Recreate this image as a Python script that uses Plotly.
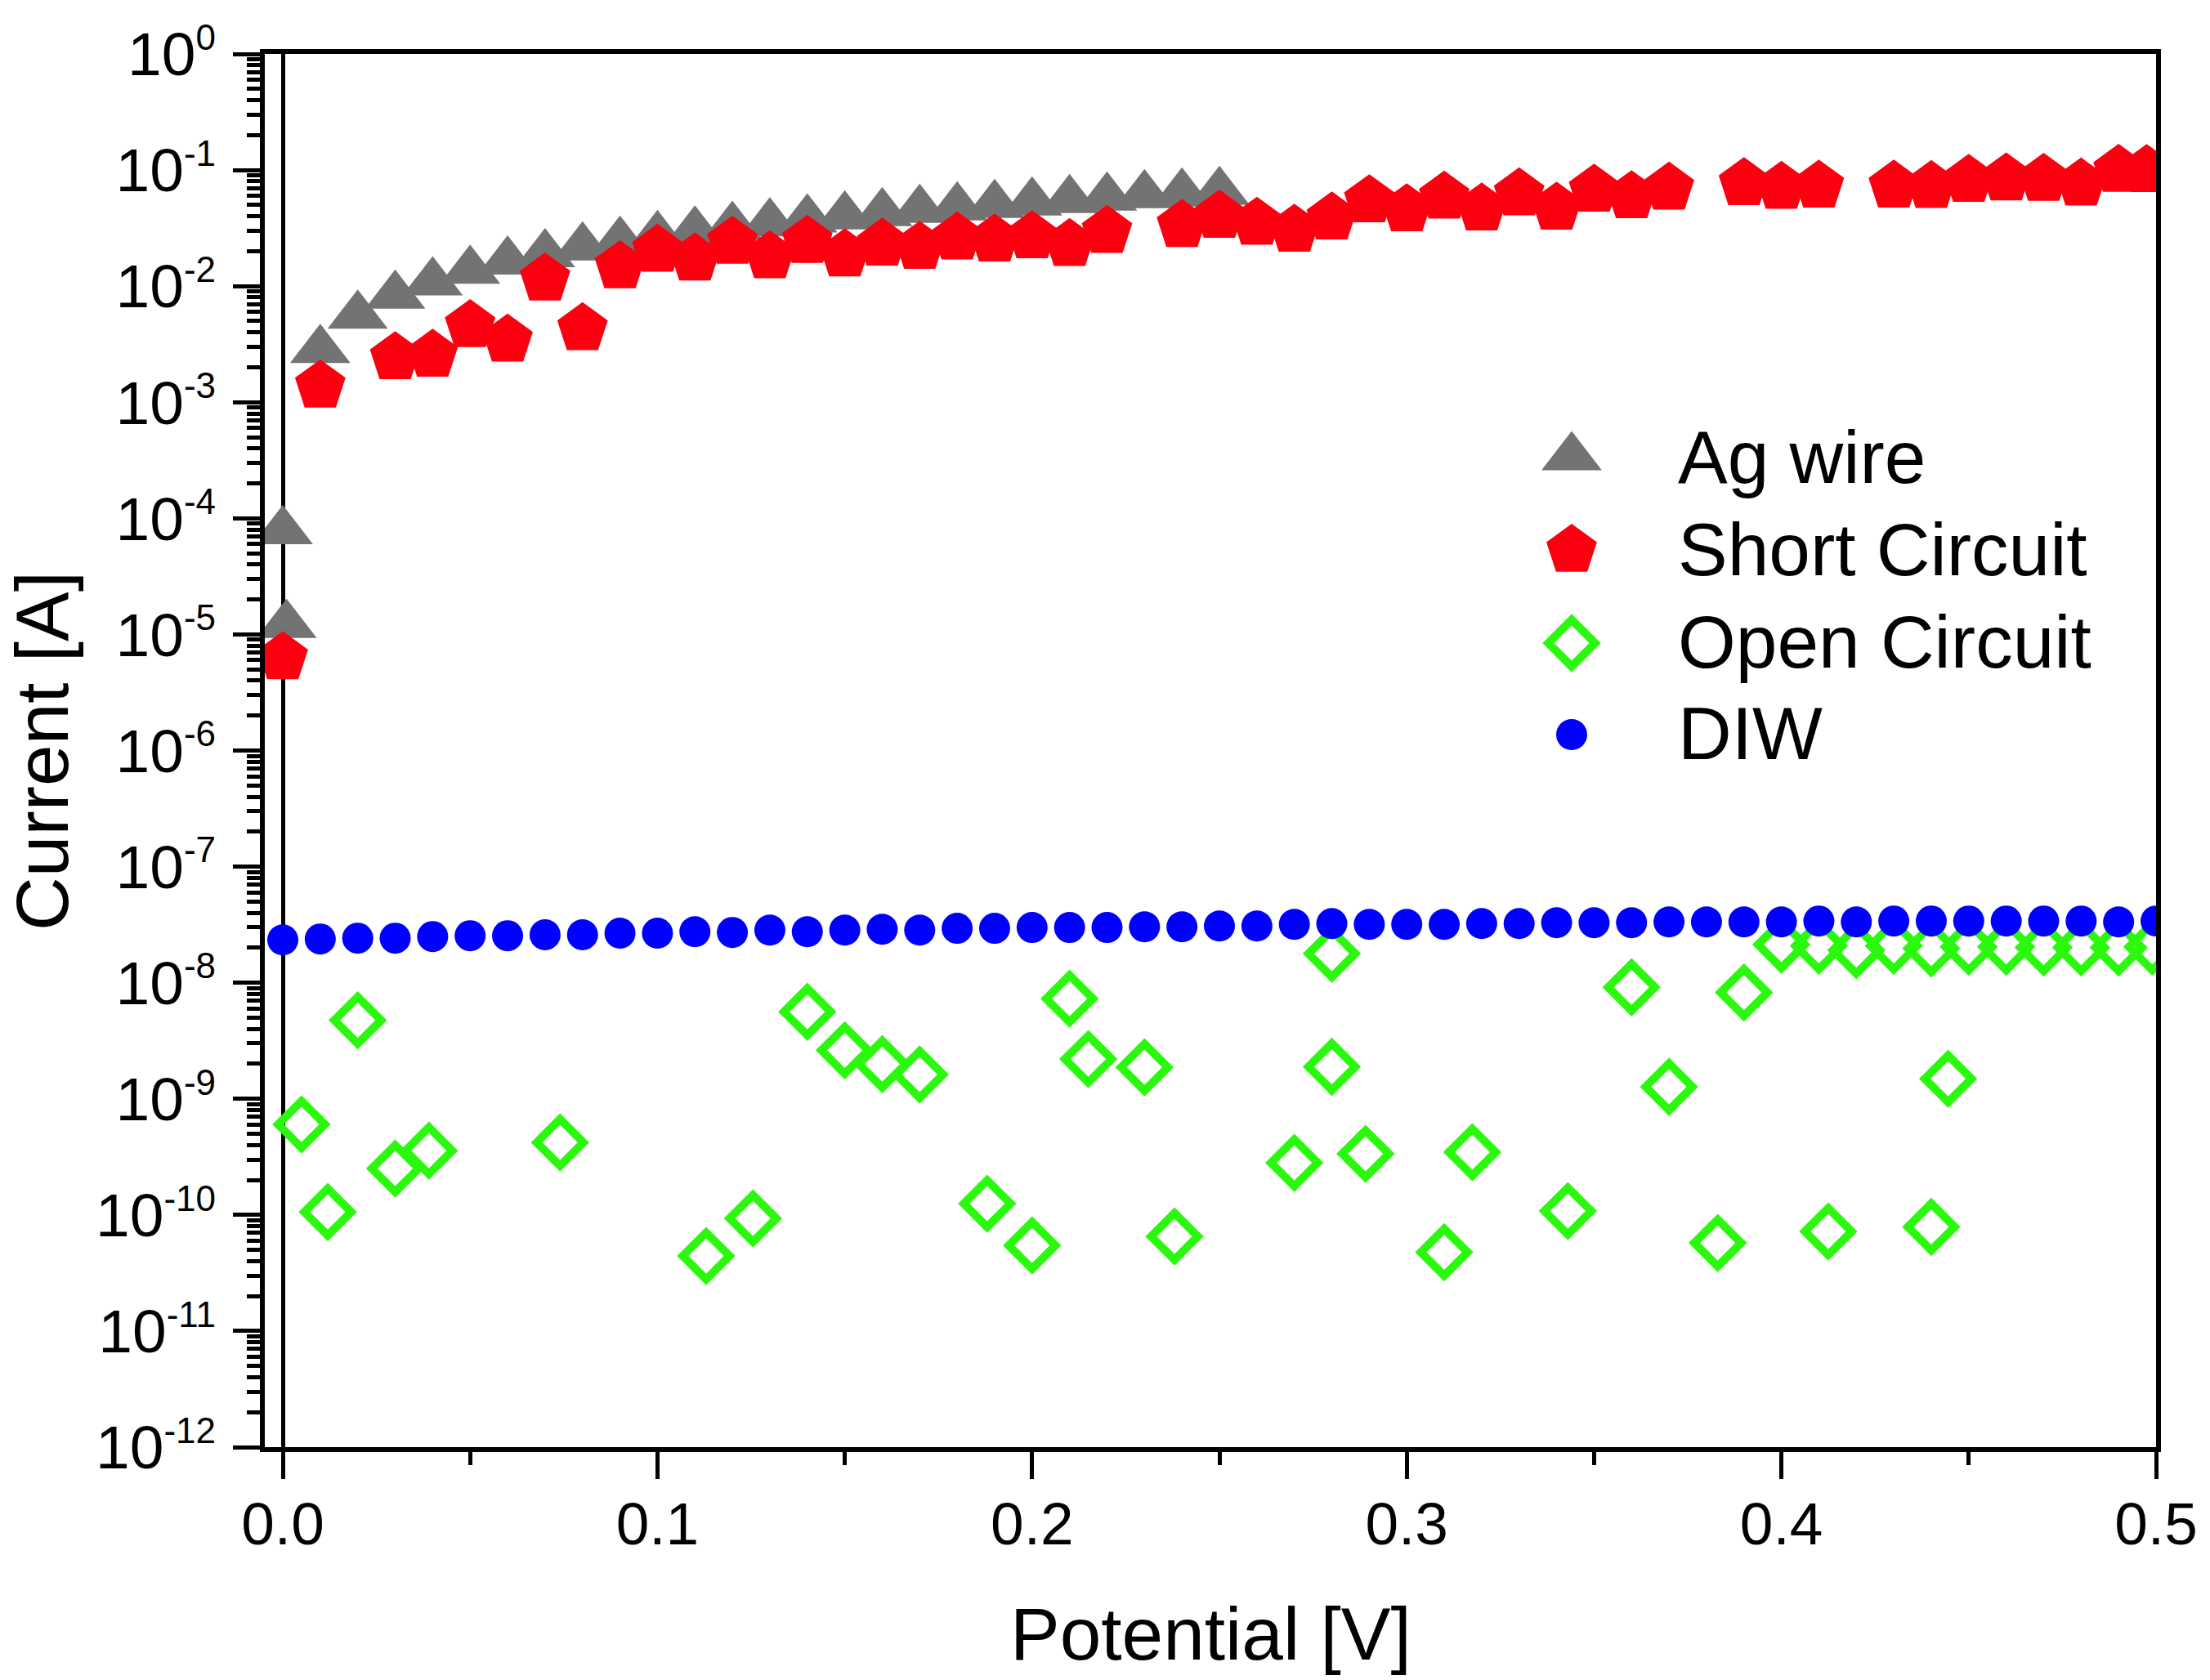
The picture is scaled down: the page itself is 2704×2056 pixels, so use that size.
import plotly.graph_objects as go

# ---------------- data ----------------
series_names = ["Ag wire", "Short Circuit", "Open Circuit", "DIW"]

ag_x = [0.0, 0.001, 0.01, 0.02, 0.03, 0.04, 0.05, 0.06, 0.07, 0.08, 0.09, 0.10,
        0.11, 0.12, 0.13, 0.14, 0.15, 0.16, 0.17, 0.18, 0.19, 0.20, 0.21, 0.22,
        0.23, 0.24, 0.25]
ag_y = [7.77e-5, 1.21e-5, 2.82e-3, 5.58e-3, 8.28e-3, 1.08e-2, 1.36e-2, 1.63e-2,
        1.89e-2, 2.16e-2, 2.42e-2, 2.71e-2, 2.96e-2, 3.25e-2, 3.48e-2, 3.76e-2,
        3.99e-2, 4.26e-2, 4.54e-2, 4.77e-2, 5.01e-2, 5.26e-2, 5.52e-2, 5.79e-2,
        6.08e-2, 6.28e-2, 6.49e-2]

sc_x = [0.0, 0.01, 0.03, 0.04, 0.05, 0.06, 0.07, 0.08, 0.09, 0.10, 0.11, 0.12,
        0.13, 0.14, 0.15, 0.16, 0.17, 0.18, 0.19, 0.20, 0.21, 0.22, 0.24, 0.25,
        0.26, 0.27, 0.28, 0.29, 0.30, 0.31, 0.32, 0.33, 0.34, 0.35, 0.36, 0.37,
        0.39, 0.40, 0.41, 0.43, 0.44, 0.45, 0.46, 0.47, 0.48, 0.49, 0.4975]
sc_y = [6.3e-6, 1.38e-3, 2.42e-3, 2.54e-3, 4.57e-3, 3.43e-3, 1.15e-2, 4.3e-3,
        1.47e-2, 2.04e-2, 1.71e-2, 2.39e-2, 1.79e-2, 2.43e-2, 1.86e-2, 2.30e-2,
        2.16e-2, 2.60e-2, 2.50e-2, 2.66e-2, 2.28e-2, 2.96e-2, 3.33e-2, 4.0e-2,
        3.48e-2, 3.03e-2, 3.86e-2, 5.44e-2, 4.54e-2, 5.84e-2, 4.62e-2, 6.23e-2,
        4.69e-2, 6.7e-2, 5.89e-2, 6.98e-2, 7.63e-2, 7.1e-2, 7.28e-2, 7.28e-2,
        7.22e-2, 8.14e-2, 8.38e-2, 8.31e-2, 7.58e-2, 9.93e-2, 9.9e-2]

oc_x = [0.005, 0.012, 0.020, 0.030, 0.039, 0.074, 0.113, 0.1255, 0.140, 0.150,
        0.160, 0.170, 0.188, 0.200, 0.210, 0.215, 0.230, 0.238, 0.270, 0.280,
        0.280, 0.289, 0.310, 0.3175, 0.343, 0.360, 0.370, 0.383, 0.390, 0.400,
        0.410, 0.4125, 0.420, 0.430, 0.440, 0.440, 0.4445, 0.450, 0.460, 0.470,
        0.480, 0.490, 0.499]
oc_y = [6.02e-10, 1.06e-10, 4.75e-9, 2.51e-10, 3.58e-10, 4.21e-10, 4.43e-11,
        9.33e-11, 5.62e-9, 2.62e-9, 1.99e-9, 1.62e-9, 1.25e-10, 5.46e-11, 7.29e-9,
        2.2e-9, 1.87e-9, 6.53e-11, 2.81e-10, 1.78e-8, 1.89e-9, 3.36e-10, 4.77e-11,
        3.47e-10, 1.08e-10, 9.14e-9, 1.27e-9, 5.74e-11, 8.24e-9, 2.13e-8, 2.08e-8,
        7.2e-11, 1.91e-8, 2.08e-8, 1.97e-8, 7.89e-11, 1.49e-9, 2.04e-8, 2.04e-8,
        2.01e-8, 2.01e-8, 2.01e-8, 2.04e-8]

diw_x = [0.00, 0.01, 0.02, 0.03, 0.04, 0.05, 0.06, 0.07, 0.08, 0.09, 0.10,
         0.11, 0.12, 0.13, 0.14, 0.15, 0.16, 0.17, 0.18, 0.19, 0.20, 0.21,
         0.22, 0.23, 0.24, 0.25, 0.26, 0.27, 0.28, 0.29, 0.30, 0.31, 0.32,
         0.33, 0.34, 0.35, 0.36, 0.37, 0.38, 0.39, 0.40, 0.41, 0.42, 0.43,
         0.44, 0.45, 0.46, 0.47, 0.48, 0.49, 0.50]
diw_y = [2.34e-8, 2.38e-8, 2.42e-8, 2.42e-8, 2.50e-8, 2.54e-8, 2.54e-8, 2.59e-8,
         2.59e-8, 2.67e-8, 2.67e-8, 2.75e-8, 2.71e-8, 2.84e-8, 2.75e-8, 2.84e-8,
         2.89e-8, 2.84e-8, 2.94e-8, 2.94e-8, 2.99e-8, 2.99e-8, 2.99e-8, 3.03e-8,
         3.03e-8, 3.08e-8, 3.08e-8, 3.18e-8, 3.23e-8, 3.18e-8, 3.18e-8, 3.18e-8,
         3.23e-8, 3.23e-8, 3.29e-8, 3.29e-8, 3.29e-8, 3.34e-8, 3.34e-8, 3.34e-8,
         3.34e-8, 3.40e-8, 3.34e-8, 3.40e-8, 3.40e-8, 3.40e-8, 3.40e-8, 3.40e-8,
         3.40e-8, 3.34e-8, 3.40e-8]

x_tickvals = [0.0, 0.1, 0.2, 0.3, 0.4, 0.5]
x_ticktext = ["0.0", "0.1", "0.2", "0.3", "0.4", "0.5"]
y_exponents = [0, -1, -2, -3, -4, -5, -6, -7, -8, -9, -10, -11, -12]

# ---------------- styles ----------------
FONT = "Liberation Sans, Arial, sans-serif"
GRAY = "#737373"
RED = "#FC0010"
GREEN = "#2AF80C"
BLUE = "#0000FF"

styles = [
    dict(symbol="triangle-up", size=64, color=GRAY, line=dict(width=0)),
    dict(symbol="pentagon", size=65, color=RED, line=dict(width=0)),
    dict(symbol="diamond-open", size=44, color=GREEN, line=dict(width=10, color=GREEN)),
    dict(symbol="circle", size=38, color=BLUE, line=dict(width=0)),
]

fig = go.Figure()
for name, xs, ys, st in zip(series_names, [ag_x, sc_x, oc_x, diw_x],
                            [ag_y, sc_y, oc_y, diw_y], styles):
    fig.add_trace(go.Scatter(x=xs, y=ys, mode="markers", name=name,
                             marker=st, showlegend=False))

# ---------------- manual legend (large symbols) ----------------
leg_sym_x = 0.691
leg_sym_y = [0.7105, 0.6437, 0.5771, 0.5114]
leg_txt_x = 0.7465
leg_txt_y = [0.7106, 0.6443, 0.5780, 0.5123]
for name, st, sy in zip(series_names, styles, leg_sym_y):
    fig.add_trace(go.Scatter(x=[leg_sym_x], y=[sy], mode="markers", marker=st,
                             xaxis="x2", yaxis="y2", showlegend=False,
                             cliponaxis=False, hoverinfo="skip"))
annotations = []
for name, ty in zip(series_names, leg_txt_y):
    annotations.append(dict(text=name, xref="paper", yref="paper", x=leg_txt_x, y=ty,
                            xanchor="left", yanchor="middle", showarrow=False,
                            font=dict(family=FONT, size=91, color="black")))

# axis titles
annotations.append(dict(text="Potential [V]", xref="paper", yref="paper", x=0.5, y=-0.1343,
                        xanchor="center", yanchor="middle", showarrow=False,
                        font=dict(family=FONT, size=91, color="black")))
annotations.append(dict(text="Current [A]", xref="paper", yref="paper", x=-0.1178, y=0.5,
                        xanchor="center", yanchor="middle", showarrow=False, textangle=-90,
                        font=dict(family=FONT, size=91, color="black")))

fig.update_layout(
    width=2704, height=2056,
    margin=dict(l=324, r=66, t=66, b=285),
    paper_bgcolor="white", plot_bgcolor="white",
    showlegend=False,
    font=dict(family=FONT, color="black"),
    annotations=annotations,
    xaxis=dict(
        range=[-0.0048, 0.5], tickmode="array", tickvals=x_tickvals, ticktext=x_ticktext,
        ticks="outside", ticklen=33, tickwidth=5, tickcolor="black",
        showline=True, linewidth=6, linecolor="black", mirror=True,
        showgrid=False, zeroline=True, zerolinecolor="black", zerolinewidth=5,
        tickfont=dict(family=FONT, size=73, color="black"), ticklabelstandoff=-8,
        minor=dict(ticks="outside", ticklen=16, tickwidth=5, tickcolor="black",
                   dtick=0.05, tick0=0, showgrid=False),
    ),
    yaxis=dict(
        type="log", range=[-12, 0], tickmode="array",
        tickvals=[10.0 ** e for e in y_exponents],
        ticktext=['10<sup><span style="font-size:44px">%d</span></sup>' % e for e in y_exponents],
        ticks="outside", ticklen=33, tickwidth=5, tickcolor="black",
        showline=True, linewidth=6, linecolor="black", mirror=True,
        showgrid=False, zeroline=False,
        tickfont=dict(family=FONT, size=75, color="black"), ticklabelstandoff=6,
        minor=dict(ticks="outside", ticklen=16, tickwidth=5, tickcolor="black",
                   dtick="D1", showgrid=False),
    ),
    xaxis2=dict(overlaying="x", range=[0, 1], visible=False),
    yaxis2=dict(overlaying="y", range=[0, 1], visible=False),
)

fig.write_html("out.html", config={"displayModeBar": False},
               post_script="document.body.style.margin='0';")
